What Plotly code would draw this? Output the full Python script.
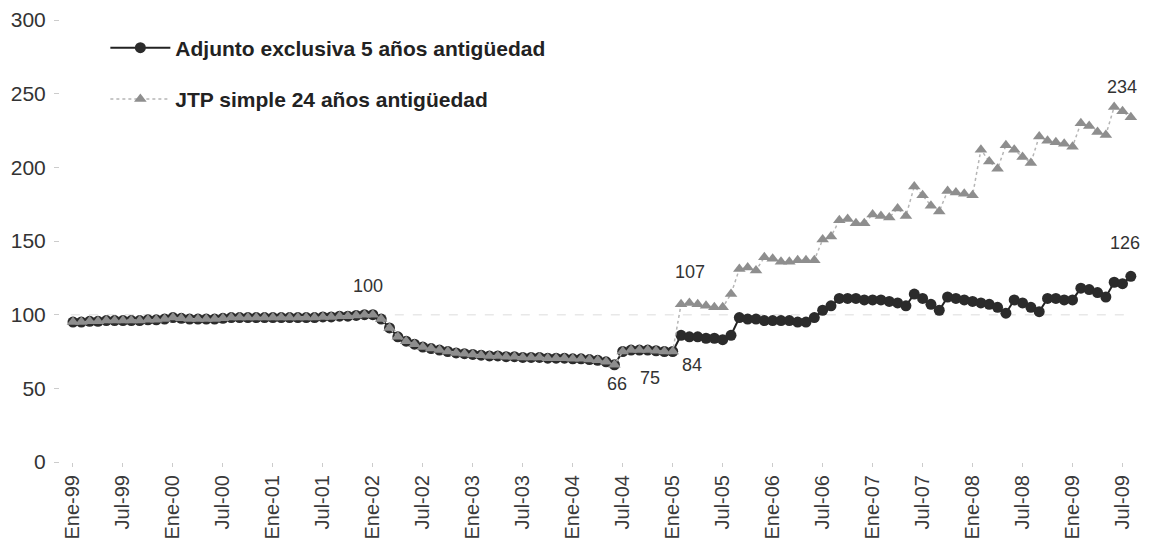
import plotly.graph_objects as go

# Month labels, Ene-99 .. Ago-09
meses = ['Ene', 'Feb', 'Mar', 'Abr', 'May', 'Jun', 'Jul', 'Ago', 'Sep', 'Oct', 'Nov', 'Dic']
periodos = [f'{m}-{a % 100:02d}' for a in range(1999, 2010) for m in meses][:128]

# Shared values up to Ene-05 (both series coincide)
comun = [
    95, 95, 95.5, 95.5, 96, 96, 96, 96, 96, 96.5, 96.5, 97,          # 1999
    98, 97.5, 97, 97, 97, 97, 97.5, 98, 98, 98, 98, 98,              # 2000
    98, 98, 98, 98, 98, 98, 98.5, 98.5, 99, 99, 99.5, 100,           # 2001
    100, 97, 91, 85, 82, 80, 78, 77, 76, 75, 74, 73.5,               # 2002
    73, 72.5, 72, 72, 71.5, 71.5, 71, 71, 71, 70.5, 70.5, 70.5,      # 2003
    70, 70, 69.5, 69, 68, 66, 75, 76, 76, 76, 75.5, 75,              # 2004
    75,                                                              # Ene-05
]

# Feb-05 .. Ago-09
adjunto_desde_feb05 = [
    86, 85, 85, 84, 84, 83, 86, 98, 97, 97, 96,                      # 2005
    96, 96, 96, 95, 95, 98, 103, 106, 111, 111, 111, 110,            # 2006
    110, 110, 109, 108, 106, 114, 111, 107, 103, 112, 111, 110,      # 2007
    109, 108, 107, 105, 101, 110, 108, 105, 102, 111, 111, 110,      # 2008
    110, 118, 117, 115, 112, 122, 121, 126,                          # 2009
]
jtp_desde_feb05 = [
    107, 108, 107, 106, 105, 105, 114, 131, 132, 130, 139,           # 2005
    138, 136, 136, 137, 137, 137, 151, 153, 164, 165, 162, 162,      # 2006
    168, 167, 166, 172, 167, 187, 181, 174, 170, 184, 183, 182,      # 2007
    181, 212, 204, 199, 215, 212, 207, 203, 221, 218, 217, 216,      # 2008
    214, 230, 228, 224, 222, 241, 238, 234,                          # 2009
]

adjunto = comun + adjunto_desde_feb05
jtp = comun + jtp_desde_feb05

ticks_x = periodos[::6]

fuente = 'Liberation Sans, Arial, sans-serif'

fig = go.Figure()

fig.add_trace(go.Scatter(
    x=periodos, y=adjunto, mode='lines+markers',
    name='<b>Adjunto exclusiva 5 años antigüedad</b>',
    legendgroup='a',
    line=dict(color='#222222', width=2),
    marker=dict(symbol='circle', size=11, color='#2b2b2b'),
))
fig.add_trace(go.Scatter(
    x=periodos, y=jtp, mode='lines+markers',
    name='<b>JTP simple 24 años antigüedad</b>',
    legendgroup='b',
    line=dict(color='#b5b5b5', width=1.5, dash='dot'),
    marker=dict(symbol='triangle-up', size=11, color='#8e8e8e'),
))

# faint reference line at 100
fig.add_shape(type='line', xref='paper', x0=0.01, x1=0.99, y0=100, y1=100,
              line=dict(color='#e8e8e8', width=1.5, dash='dash'), layer='below')

# value labels
etiquetas = [
    ('Dic-01', 100, '100', 3, 29),
    ('Jun-04', 66, '66', 3, -19),
    ('Oct-04', 76, '75', 2, -28),
    ('Feb-05', 86, '84', 11, -30),
    ('Feb-05', 107, '107', 9, 32),
    ('Ago-09', 126, '126', -6, 33),
    ('Ago-09', 234, '234', -9, 30),
]
for px_, py_, txt, dx, dy in etiquetas:
    fig.add_annotation(x=px_, y=py_, text=txt, showarrow=False,
                       xshift=dx, yshift=dy,
                       font=dict(family=fuente, size=18, color='#333333'))

fig.update_layout(
    width=1142, height=540,
    margin=dict(l=52, r=10, t=12, b=86),
    plot_bgcolor='white', paper_bgcolor='white',
    font=dict(family=fuente, color='#333333'),
    showlegend=True,
    legend=dict(x=0.042, y=0.983, xanchor='left', yanchor='top',
                bgcolor='rgba(0,0,0,0)', font=dict(size=21, color='#222222'),
                itemwidth=60, tracegroupgap=21),
    xaxis=dict(
        type='category', categoryorder='array', categoryarray=periodos,
        range=[-1.56, 128.1], automargin=False,
        tickmode='array', tickvals=ticks_x, ticktext=ticks_x,
        tickangle=-90, tickfont=dict(size=20, color='#3a3a3a'),
        ticks='outside', ticklen=4, tickcolor='#cccccc',
        showgrid=False, showline=False, zeroline=False,
    ),
    yaxis=dict(
        range=[0, 300], dtick=50, automargin=False,
        tickfont=dict(size=21, color='#333333'),
        ticks='outside', ticklen=5, tickcolor='#cccccc',
        ticklabelstandoff=4, ticklabeloverflow='allow',
        showgrid=False, showline=False, zeroline=False,
    ),
)

fig.write_html('out.html')
